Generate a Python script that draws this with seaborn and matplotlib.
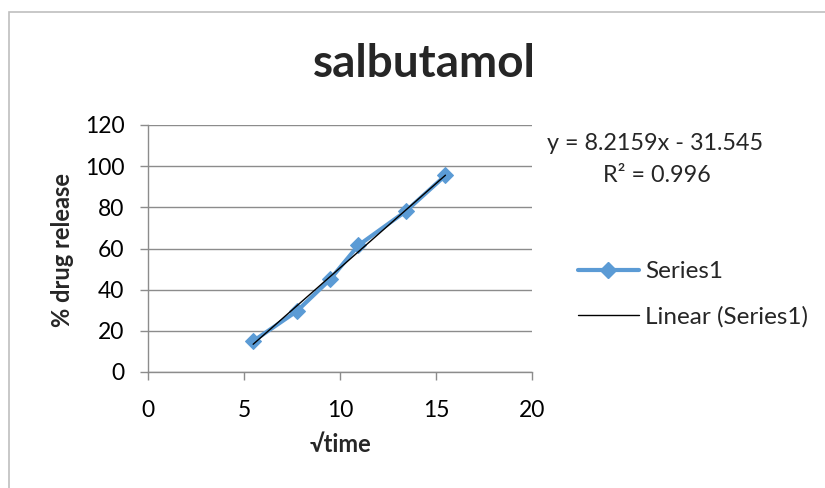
import numpy as np
import pandas as pd
import matplotlib
matplotlib.use("Agg")
import matplotlib.pyplot as plt
import seaborn as sns
from matplotlib.lines import Line2D
from matplotlib.patches import Rectangle

sqrt_time = [5.477, 7.746, 9.487, 10.954, 13.416, 15.492]
drug_release = [15.0, 29.5, 45.0, 61.5, 78.0, 95.5]
x_ticks = [0, 5, 10, 15, 20]
y_ticks = [0, 20, 40, 60, 80, 100, 120]
title = "salbutamol"
equation = "y = 8.2159x - 31.545"
r2_text = "R² = 0.996"

sns.set_theme(style="white")
plt.rcParams['font.family'] = ['Lato', 'DejaVu Sans']

df = pd.DataFrame({"x": sqrt_time, "y": drug_release})

fig = plt.figure(figsize=(8.25, 4.88), dpi=100)
fig.patches.append(Rectangle((9/825, -0.1), 1.0, 1 - 12/488 + 0.1, transform=fig.transFigure,
                             fill=False, edgecolor="#BFBFBF", linewidth=1.2))
ax = fig.add_axes([148/825, 1 - 372/488, (532 - 148)/825, (372 - 125)/488])

blue = "#5B9BD5"
sns.lineplot(data=df, x="x", y="y", ax=ax, color=blue, linewidth=3, marker="D",
             markersize=8.5, markeredgecolor=blue, sort=False, label="Series1")
sns.regplot(data=df, x="x", y="y", ax=ax, ci=None, scatter=False, truncate=True,
            line_kws=dict(color="black", linewidth=1.0), label="Linear (Series1)")

ax.set_xlim(0, 20)
ax.set_ylim(0, 120)
ax.set_xticks(x_ticks)
ax.set_yticks(y_ticks)
ax.yaxis.grid(True, color="#8C8C8C", linewidth=1)
ax.xaxis.grid(False)
for s in ["top", "right"]:
    ax.spines[s].set_visible(False)
for s in ["left", "bottom"]:
    ax.spines[s].set_color("#8C8C8C")
    ax.spines[s].set_linewidth(1)
ax.tick_params(axis="both", which="both", direction="out", length=6, width=1,
               color="#8C8C8C", labelsize=16.5, labelcolor="black")
ax.tick_params(axis="y", pad=11)
ax.tick_params(axis="x", pad=14)
ax.tick_params(axis="both", bottom=True, left=True)

ax.set_xlabel("√time", fontsize=17, fontweight="bold")
ax.set_ylabel("% drug release", fontsize=17, fontweight="bold")
ax.xaxis.set_label_coords((340 - 148) / 384, (372 - 444) / 247)
ax.yaxis.set_label_coords((62 - 148) / 384, (372 - 250) / 247)
ax.xaxis.label.set_va("center")
ax.yaxis.label.set_va("center")

fig.text(424/825, 1 - 64/488, title, fontsize=33, fontweight="bold", ha="center", va="center")
fig.text(655/825, 1 - 143/488, equation, fontsize=16.8, ha="center", va="center")
fig.text(657/825, 1 - 175/488, r2_text, fontsize=16.8, ha="center", va="center")

handles = [Line2D([], [], color=blue, linewidth=3, marker="D", markersize=8.5, markeredgecolor=blue),
           Line2D([], [], color="black", linewidth=1)]
if ax.legend_:
    ax.legend_.remove()
fig.legend(handles, ["Series1", "Linear (Series1)"], loc="upper left",
           bbox_to_anchor=(578/825, 1 - 261/488), frameon=False, fontsize=17.5,
           handlelength=2.5, handletextpad=0.25, labelspacing=1.0, borderaxespad=0,
           borderpad=0)

fig.savefig("out.png", dpi=100)
